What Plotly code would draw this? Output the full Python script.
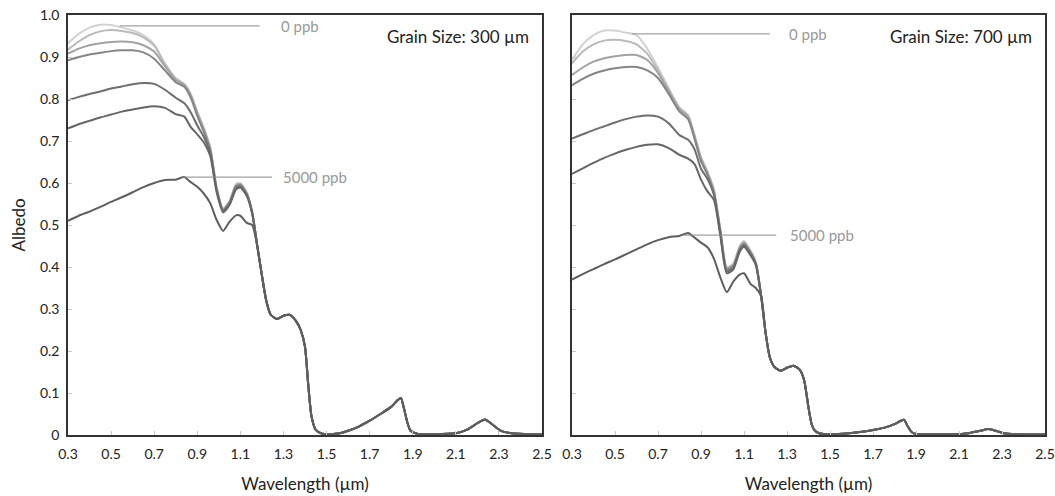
import plotly.graph_objects as go

# ---------------- data ----------------
wl_head = [0.30, 0.35, 0.40, 0.45, 0.50, 0.55, 0.60, 0.65, 0.70, 0.75, 0.80,
           0.84, 0.87, 0.90, 0.93, 0.96, 0.99, 1.02, 1.05, 1.08, 1.10, 1.13, 1.155]
wl_tail = [1.18, 1.20, 1.22, 1.24, 1.27, 1.30, 1.33, 1.36, 1.38, 1.40, 1.415, 1.43,
           1.45, 1.48, 1.52, 1.56, 1.60, 1.65, 1.70, 1.75, 1.80, 1.83, 1.845, 1.86,
           1.875, 1.89, 1.92, 2.00, 2.10, 2.15, 2.20, 2.235, 2.27, 2.31, 2.36, 2.45, 2.50]

series_names = ["0 ppb", "low 1", "low 2", "low 3", "mid 1", "mid 2", "5000 ppb"]

# Grain size 300 um
g300_head = [
    [0.933, 0.955, 0.970, 0.977, 0.976, 0.970, 0.963, 0.952, 0.930, 0.885, 0.850,
     0.836, 0.812, 0.770, 0.732, 0.686, 0.590, 0.540, 0.558, 0.598, 0.600, 0.578, 0.532],
    [0.918, 0.937, 0.952, 0.961, 0.964, 0.962, 0.957, 0.947, 0.927, 0.883, 0.848,
     0.835, 0.810, 0.768, 0.730, 0.684, 0.588, 0.538, 0.556, 0.596, 0.598, 0.576, 0.531],
    [0.908, 0.920, 0.928, 0.933, 0.936, 0.937, 0.935, 0.928, 0.913, 0.878, 0.845,
     0.833, 0.808, 0.766, 0.728, 0.682, 0.586, 0.537, 0.555, 0.594, 0.597, 0.575, 0.530],
    [0.892, 0.900, 0.906, 0.910, 0.914, 0.916, 0.916, 0.911, 0.896, 0.868, 0.840,
     0.829, 0.803, 0.760, 0.722, 0.678, 0.584, 0.535, 0.553, 0.592, 0.595, 0.573, 0.529],
    [0.797, 0.805, 0.812, 0.818, 0.825, 0.830, 0.835, 0.838, 0.836, 0.822, 0.803,
     0.790, 0.768, 0.737, 0.710, 0.672, 0.582, 0.533, 0.551, 0.588, 0.592, 0.571, 0.528],
    [0.730, 0.740, 0.748, 0.756, 0.763, 0.770, 0.775, 0.780, 0.783, 0.779, 0.764,
     0.758, 0.733, 0.716, 0.697, 0.665, 0.578, 0.530, 0.548, 0.585, 0.589, 0.569, 0.527],
    [0.510, 0.522, 0.532, 0.543, 0.555, 0.566, 0.578, 0.590, 0.600, 0.607, 0.608,
     0.614, 0.602, 0.591, 0.575, 0.552, 0.512, 0.486, 0.508, 0.523, 0.522, 0.505, 0.500],
]
g300_tail = [0.445, 0.380, 0.320, 0.287, 0.276, 0.284, 0.286, 0.270, 0.250, 0.210, 0.120,
             0.045, 0.012, 0.003, 0.002, 0.004, 0.010, 0.020, 0.034, 0.050, 0.067, 0.083,
             0.088, 0.062, 0.030, 0.010, 0.003, 0.002, 0.004, 0.012, 0.028, 0.037, 0.025,
             0.010, 0.004, 0.002, 0.002]

# Grain size 700 um
g700_head = [
    [0.893, 0.930, 0.952, 0.963, 0.963, 0.958, 0.952, 0.920, 0.875, 0.826, 0.780,
     0.762, 0.715, 0.662, 0.628, 0.585, 0.490, 0.400, 0.408, 0.450, 0.462, 0.440, 0.412],
    [0.885, 0.913, 0.930, 0.939, 0.941, 0.938, 0.930, 0.908, 0.868, 0.822, 0.778,
     0.760, 0.713, 0.660, 0.626, 0.583, 0.488, 0.398, 0.406, 0.448, 0.460, 0.438, 0.411],
    [0.857, 0.875, 0.889, 0.897, 0.902, 0.905, 0.905, 0.893, 0.862, 0.818, 0.775,
     0.757, 0.710, 0.657, 0.623, 0.580, 0.486, 0.396, 0.404, 0.446, 0.458, 0.436, 0.410],
    [0.833, 0.848, 0.860, 0.868, 0.873, 0.876, 0.876, 0.868, 0.850, 0.812, 0.770,
     0.752, 0.705, 0.652, 0.620, 0.577, 0.484, 0.394, 0.402, 0.443, 0.455, 0.434, 0.409],
    [0.706, 0.716, 0.726, 0.735, 0.744, 0.752, 0.758, 0.761, 0.758, 0.742, 0.714,
     0.703, 0.680, 0.634, 0.610, 0.572, 0.480, 0.390, 0.398, 0.440, 0.452, 0.432, 0.407],
    [0.622, 0.635, 0.648, 0.660, 0.670, 0.679, 0.686, 0.691, 0.692, 0.683, 0.667,
     0.658, 0.645, 0.608, 0.580, 0.560, 0.475, 0.385, 0.394, 0.436, 0.448, 0.428, 0.404],
    [0.370, 0.383, 0.395, 0.407, 0.418, 0.430, 0.442, 0.454, 0.464, 0.471, 0.474,
     0.481, 0.470, 0.458, 0.447, 0.420, 0.375, 0.340, 0.365, 0.382, 0.385, 0.360, 0.350],
]
g700_tail = [0.330, 0.245, 0.185, 0.163, 0.153, 0.160, 0.165, 0.155, 0.130, 0.065, 0.025,
             0.010, 0.004, 0.002, 0.002, 0.003, 0.005, 0.008, 0.012, 0.017, 0.026, 0.034,
             0.036, 0.022, 0.010, 0.004, 0.002, 0.002, 0.002, 0.005, 0.010, 0.014, 0.010,
             0.004, 0.002, 0.001, 0.001]

line_colors = ["#d2d2d2", "#bababa", "#a2a2a2", "#858585", "#6e6e6e", "#666666", "#5e5e5e"]

x_ticks = [0.3, 0.5, 0.7, 0.9, 1.1, 1.3, 1.5, 1.7, 1.9, 2.1, 2.3, 2.5]
x_ticktext = ["0.3", "0.5", "0.7", "0.9", "1.1", "1.3", "1.5", "1.7", "1.9", "2.1", "2.3", "2.5"]
y_ticks = [0, 0.1, 0.2, 0.3, 0.4, 0.5, 0.6, 0.7, 0.8, 0.9, 1.0]
y_ticktext = ["0", "0.1", "0.2", "0.3", "0.4", "0.5", "0.6", "0.7", "0.8", "0.9", "1.0"]

panel_titles = ["Grain Size: 300 \u00b5m", "Grain Size: 700 \u00b5m"]

# ---------------- figure ----------------
W, H = 1055, 496
FONT = "Lato"
TXT = "#222222"
fig = go.Figure()

wl = wl_head + wl_tail
panels = [(g300_head, g300_tail, "x", "y"), (g700_head, g700_tail, "x2", "y2")]
for head, tail, xa, ya in panels:
    for i, h in enumerate(head):
        fig.add_trace(go.Scatter(
            x=wl, y=h + tail, mode="lines", name=series_names[i],
            line=dict(color=line_colors[i], width=2, shape="spline", smoothing=0.6),
            xaxis=xa, yaxis=ya, showlegend=False, hoverinfo="skip"))

def px_x(p):
    return p / W

def px_y(p):
    return 1 - p / H

axis_common = dict(range=[0.3, 2.5], tickvals=x_ticks, ticktext=x_ticktext,
                   ticks="inside", ticklen=4, tickcolor="#c8c8c8", showgrid=False,
                   zeroline=False, showline=True, mirror=True, linecolor="#333333",
                   linewidth=1.5, automargin=False, ticklabelstandoff=5,
                   ticklabeloverflow="allow",
                   tickfont=dict(family=FONT, size=14, color=TXT),
                   title=dict(text="Wavelength (\u00b5m)", font=dict(family=FONT, size=17, color=TXT),
                              standoff=18))
yaxis_common = dict(range=[0, 1.0], tickvals=y_ticks, ticktext=y_ticktext,
                    ticks="inside", ticklen=4, tickcolor="#c8c8c8", showgrid=False,
                    zeroline=False, showline=True, mirror=True, linecolor="#333333",
                    linewidth=1.5, automargin=False, ticklabelstandoff=4,
                    ticklabeloverflow="allow",
                    tickfont=dict(family=FONT, size=14, color=TXT),
                    domain=[px_y(435), px_y(15)])

fig.update_layout(
    width=W, height=H, margin=dict(l=0, r=0, t=0, b=0, autoexpand=False),
    paper_bgcolor="white", plot_bgcolor="white",
    xaxis=dict(axis_common, domain=[px_x(68), px_x(542)], anchor="y"),
    yaxis=dict(yaxis_common, anchor="x",
               title=dict(text="Albedo", font=dict(family=FONT, size=17, color=TXT), standoff=10)),
    xaxis2=dict(axis_common, domain=[px_x(572), px_x(1045)], anchor="y2"),
    yaxis2=dict(yaxis_common, anchor="x2", showticklabels=False),
)

# annotation leader lines and labels
leaders = [
    ("x", "y", 0.54, 1.19, 0.974, 1.28, "0 ppb"),
    ("x", "y", 0.83, 1.247, 0.614, 1.29, "5000 ppb"),
    ("x2", "y2", 0.58, 1.22, 0.955, 1.30, "0 ppb"),
    ("x2", "y2", 0.82, 1.25, 0.476, 1.305, "5000 ppb"),
]
for xa, ya, x0, x1, yv, xt, txt in leaders:
    fig.add_shape(type="line", xref=xa, yref=ya, x0=x0, x1=x1, y0=yv, y1=yv,
                  line=dict(color="#8a8a8a", width=1))
    fig.add_annotation(xref=xa, yref=ya, x=xt, y=yv, text=txt, showarrow=False,
                       xanchor="left", yanchor="middle",
                       font=dict(family=FONT, size=15, color="#999999"))

for (xa, ya), t in zip([("x", "y"), ("x2", "y2")], panel_titles):
    fig.add_annotation(xref=xa + " domain", yref=ya + " domain", x=0.977, y=0.95, text=t,
                       showarrow=False, xanchor="right", yanchor="middle",
                       font=dict(family=FONT, size=17, color=TXT))

# remove the default page margin so the figure fills the window exactly
fig.write_html("out.html", config={"displayModeBar": False},
               post_script="document.body.style.margin='0';document.body.style.overflow='hidden';")
